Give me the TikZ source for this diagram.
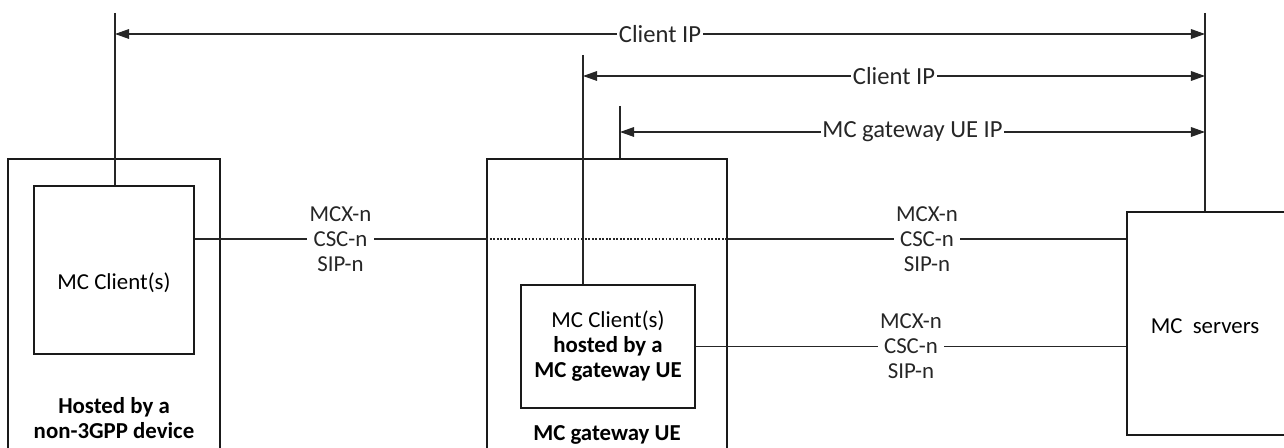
\documentclass[tikz,border=0pt]{standalone}
\usepackage{fontspec}
\setmainfont{Carlito}
\usepackage{tikz}
\usetikzlibrary{arrows.meta, positioning, calc}
\definecolor{frameBlack}{HTML}{1A1A1A}
\colorlet{linkGray}{black!85}

\tikzset{
  box/.style={draw=frameBlack, line width=0.75pt, rectangle, inner sep=0pt},
  lbl/.style={font=\fontsize{13}{14.2}\selectfont, align=center},
  bold/.style={font=\fontsize{13}{14.2}\selectfont\bfseries, align=center},
  iface/.style={lbl, fill=white, inner sep=1.5pt},
  iplbl/.style={font=\fontsize{14}{15}\selectfont, fill=white, inner sep=1pt},
  ipline/.style={{Triangle[length=8pt,width=5.5pt]}-{Triangle[length=8pt,width=5.5pt]}, line width=0.65pt, linkGray},
  link/.style={line width=0.7pt, linkGray}
}

\begin{document}
\begin{tikzpicture}[x=0.02cm, y=-0.02cm]
  \clip (0,0) rectangle (1284,448);

  % non-3GPP device
  \node[box, minimum width=4.24cm, minimum height=6.4cm] (devout) at (114,319) {};
  \node[box, minimum width=3.2cm, minimum height=3.36cm] (devcl) at (114,270) {};
  \node[lbl] (devtxt) at (114,283) {MC Client(s)};
  \node[bold] (devname) at (114,418) {Hosted by a\\non-3GPP device};

  % MC gateway UE
  \node[box, minimum width=4.8cm, minimum height=6.4cm] (gwout) at (607,319) {};
  \node[box, lbl, minimum width=3.48cm, minimum height=2.46cm] (gwcl) at (608,346.5)
    {MC Client(s)\\\textbf{hosted by a}\\\textbf{MC gateway UE}};
  \node[bold] (gwname) at (607,435) {MC gateway UE};

  % servers
  \node[box, minimum width=3.46cm, minimum height=4.46cm] (srv) at (1213.5,323.5) {};
  \node[lbl] (srvtxt) at (1205,326) {MC\ \ servers};

  % IP ends
  \coordinate (ip1) at (115,13);
  \coordinate (ip2) at (583,55);
  \coordinate (ip3) at (620,106);
  \coordinate (srvtop) at (1205,13);
  \coordinate (row1) at (0,34);
  \coordinate (row2) at (0,76);
  \coordinate (row3) at (0,132);
  \coordinate (lvl1) at (0,239);

  \draw[link] (ip1) -- (ip1 |- devcl.north);
  \draw[link] (ip2) -- (ip2 |- gwcl.north);
  \draw[link] (ip3) -- (ip3 |- gwout.north);
  \draw[link] (srvtop) -- (srvtop |- srv.north);

  \draw[ipline] (ip1 |- row1) -- (srvtop |- row1) node[midway, iplbl] {Client IP};
  \draw[ipline] (ip2 |- row2) -- (srvtop |- row2) node[midway, iplbl] {Client IP};
  \draw[ipline] (ip3 |- row3) -- (srvtop |- row3) node[midway, iplbl] {MC gateway UE IP};

  % reference points
  \draw[link] (devcl.east |- lvl1) -- (gwout.west |- lvl1)
    node[midway, iface] {MCX-n\\CSC-n\\SIP-n};
  \draw[link, dash pattern=on 1pt off 1pt] (gwout.west |- lvl1) -- (gwout.east |- lvl1);
  \draw[link] (gwout.east |- lvl1) -- (srv.west |- lvl1)
    node[midway, iface] {MCX-n\\CSC-n\\SIP-n};
  \draw[link] (gwcl.east) -- (gwcl.east -| srv.west)
    node[midway, iface] {MCX-n\\CSC-n\\SIP-n};
\end{tikzpicture}
\end{document}
